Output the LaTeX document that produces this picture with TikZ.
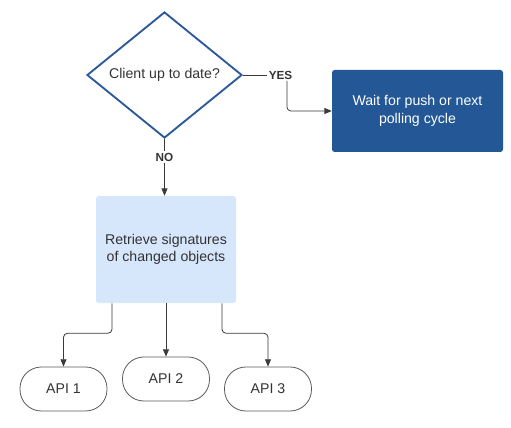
\documentclass[tikz,border=0pt]{standalone}
\usepackage{fontspec}
\setmainfont{Liberation Sans}
\usetikzlibrary{shapes.geometric,arrows.meta,calc}
\definecolor{dblue}{HTML}{245796}
\definecolor{dline}{HTML}{2C5A98}
\definecolor{lblue}{HTML}{D6E6FB}
\definecolor{conn}{HTML}{3A3A3A}
\definecolor{apiline}{HTML}{5A5A5A}
\definecolor{txt}{HTML}{333333}
\begin{document}
\begin{tikzpicture}[x=0.75pt,y=-0.75pt,
  decision/.style={diamond,draw=dline,line width=1.4pt,fill=white,minimum width=155*0.75pt,minimum height=126*0.75pt,inner sep=0pt,aspect=1.23,font=\fontsize{10.6}{12.5}\selectfont,text=txt},
  darkbox/.style={rectangle,rounded corners=2pt,fill=dblue,text=white,minimum width=171*0.75pt,minimum height=82*0.75pt,align=center,font=\fontsize{10.6}{13}\selectfont},
  lightbox/.style={rectangle,rounded corners=2pt,fill=lblue,text=txt,minimum width=140*0.75pt,minimum height=107*0.75pt,align=center,font=\fontsize{10.6}{13}\selectfont},
  api/.style={rectangle,rounded corners=16pt,draw=apiline,line width=0.6pt,fill=white,text=txt,minimum width=87*0.75pt,minimum height=44*0.75pt,font=\fontsize{10.6}{12.5}\selectfont},
  elabel/.style={font=\bfseries\fontsize{8.8}{10}\selectfont,text=txt,inner sep=1pt},
  conline/.style={draw=conn,line width=0.6pt,rounded corners=3pt},
  arr/.style={conline,-{Triangle[length=5.5pt,width=4.5pt]}}
]
\useasboundingbox (0,0) rectangle (511,428);
\node[decision] (q) at (164.5,75) {Client up to date?};
\node[darkbox] (wait) at (417.5,111) {Wait for push or next\\polling cycle};
\node[lightbox] (ret) at (166,249.5) {Retrieve signatures\\of changed objects};
\node[api] (a1) at (63.5,389) {API 1};
\node[api] (a2) at (166,379) {API 2};
\node[api] (a3) at (268,389) {API 3};
\node[elabel] (yes) at (280.5,75) {YES};
\node[elabel] (no) at (164.5,157) {NO};
\draw[conline] (q.east) -- (yes.west);
\draw[arr] ([xshift=4.8pt]yes.south) |- (wait.west);
\draw[conline] (q.south) -- (no.north);
\draw[arr] (no.south) -- (no.south |- ret.north);
\coordinate (b1) at ([xshift=-54*0.75pt]ret.south);
\coordinate (b3) at ([xshift=56*0.75pt]ret.south);
\draw[arr] (b1) -- ++(0,30) -| (a1.north);
\draw[arr] (ret.south) -- (a2.north);
\draw[arr] (b3) -- ++(0,30) -| (a3.north);
\end{tikzpicture}
\end{document}
